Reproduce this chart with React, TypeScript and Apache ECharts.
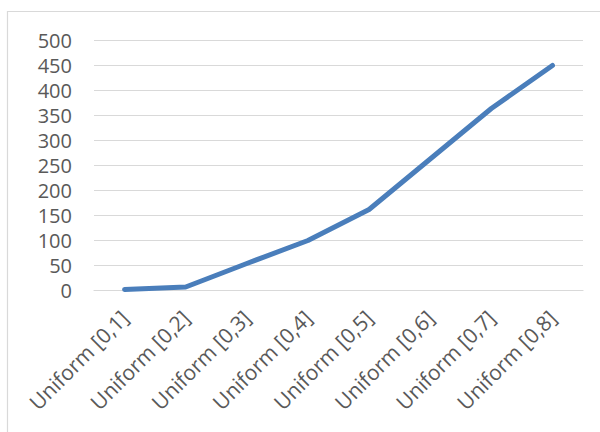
import React, { useEffect, useRef } from "react";
import * as echarts from "echarts";

const categories = [
  "Uniform [0,1]",
  "Uniform [0,2]",
  "Uniform [0,3]",
  "Uniform [0,4]",
  "Uniform [0,5]",
  "Uniform [0,6]",
  "Uniform [0,7]",
  "Uniform [0,8]",
];
const values = [1, 6, 53, 99, 161, 262, 363, 449];
const yMin = 0;
const yMax = 500;
const yStep = 50;

const FONT = "'Open Sans', 'Noto Sans', sans-serif";
const TEXT_COLOR = "#595959";
const GRID_COLOR = "#d9d9d9";

export default function App() {
  const ref = useRef<HTMLDivElement>(null);

  useEffect(() => {
    if (!ref.current) return;
    const chart = echarts.init(ref.current, null, { renderer: "svg" });
    chart.setOption({
      animation: false,
      backgroundColor: "#ffffff",
      graphic: [
        {
          type: "rect",
          shape: { x: 7.5, y: 11.5, width: 700, height: 600 },
          style: { fill: "none", stroke: GRID_COLOR, lineWidth: 1.2 },
          silent: true,
          z: -1,
        },
      ],
      grid: { left: 94, right: 17, top: 40, bottom: 142, containLabel: false },
      xAxis: {
        type: "category",
        data: categories,
        boundaryGap: true,
        axisLine: { show: true, lineStyle: { color: GRID_COLOR, width: 1.2 } },
        axisTick: { show: false },
        axisLabel: {
          rotate: 45,
          margin: 24,
          color: TEXT_COLOR,
          fontFamily: FONT,
          fontSize: 21,
          interval: 0,
        },
        splitLine: { show: false },
      },
      yAxis: {
        type: "value",
        min: yMin,
        max: yMax,
        interval: yStep,
        axisLine: { show: false },
        axisTick: { show: false },
        axisLabel: {
          margin: 22,
          color: TEXT_COLOR,
          fontFamily: FONT,
          fontSize: 20,
        },
        splitLine: { show: true, lineStyle: { color: GRID_COLOR, width: 1.2 } },
      },
      series: [
        {
          type: "line",
          data: values,
          showSymbol: false,
          symbol: "none",
          lineStyle: { color: "#4A7EBB", width: 5, cap: "round", join: "round" },
        },
      ],
    });
    return () => chart.dispose();
  }, []);

  return (
    <div
      ref={ref}
      style={{ position: "fixed", left: 0, top: 0, width: 600, height: 432 }}
    />
  );
}
